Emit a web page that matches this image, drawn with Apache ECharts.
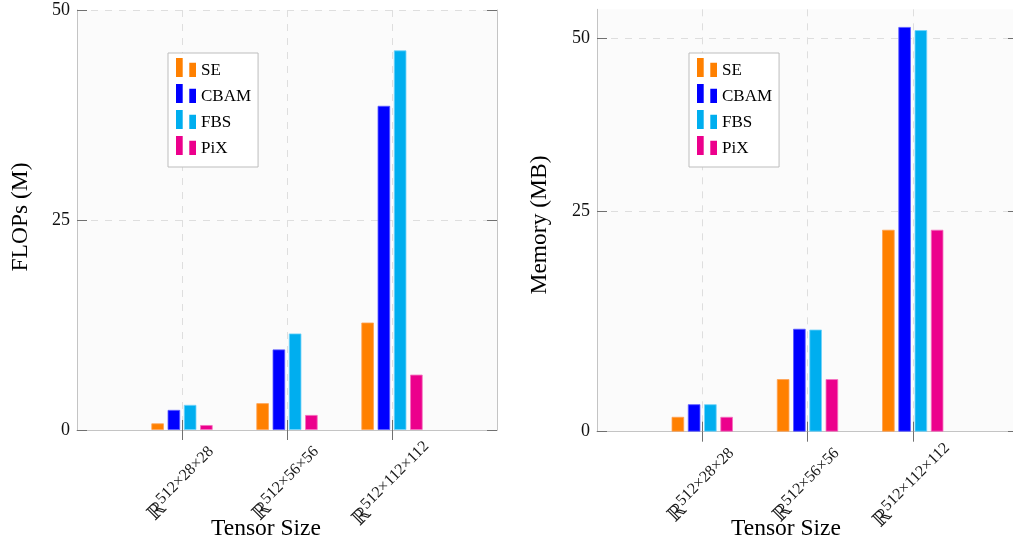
<!DOCTYPE html>
<html>
<head>
<meta charset="utf-8">
<script src="https://cdn.jsdelivr.net/npm/echarts@6/dist/echarts.min.js"></script>
<style>html,body{margin:0;padding:0;background:#fff;}#c{width:1013px;height:544px;}</style>
</head>
<body>
<div id="c"></div>
<script>
// ---- data ----
const categories = ['ℝ512×28×28', 'ℝ512×56×56', 'ℝ512×112×112'];
const seriesNames = ['SE', 'CBAM', 'FBS', 'PiX'];
const flopsSE   = [0.8, 3.2, 12.8];
const flopsCBAM = [2.4, 9.6, 38.6];
const flopsFBS  = [3.0, 11.5, 45.2];
const flopsPiX  = [0.6, 1.8, 6.6];
const memSE   = [1.9, 6.7, 25.7];
const memCBAM = [3.5, 13.1, 51.5];
const memFBS  = [3.5, 13.0, 51.1];
const memPiX  = [1.9, 6.7, 25.7];
const flopsTickValues = [0, 25, 50];
const memTickValues = [0, 28.1, 50];
const memTickLabels = ['0', '25', '50'];

// ---- style ----
const colors = ['#ff8000', '#0000ff', '#00aeef', '#ec008c'];
const borderColors = ['rgba(255,160,80,0.8)', 'rgba(90,90,255,0.8)', 'rgba(110,210,250,0.8)', 'rgba(245,110,190,0.8)'];
const serif = '"Liberation Serif", "Times New Roman", serif';
const axisLineColor = '#c4c4c4';
const tickColor = '#707070';
const gridLineColor = '#dedede';

const axisData = [''].concat(categories, ['']);
const isCat = (i) => i >= 1 && i <= categories.length;
const pad = (arr) => [null].concat(arr, [null]);

function xAxes(gi) {
  return [{
    type: 'category', gridIndex: gi, data: axisData, boundaryGap: false, position: 'bottom',
    axisLine: { lineStyle: { color: axisLineColor, width: 1 } },
    axisTick: { show: true, inside: false, length: 10, interval: (i) => isCat(i), lineStyle: { color: tickColor } },
    axisLabel: {
      interval: 0, rotate: 45, align: 'center', verticalAlign: 'middle', margin: 54,
      formatter: (v) => v ? '{r|' + v[0] + '}{s|' + v.slice(1) + '}' : '',
      rich: {
        r: { fontSize: 20, fontFamily: '"DejaVu Serif", serif', color: '#1a1a1a', verticalAlign: 'bottom' },
        s: { fontSize: 16, fontFamily: serif, color: '#1a1a1a', padding: [0, 0, 8, 0] }
      }
    },
    splitLine: { show: true, interval: (i) => isCat(i), lineStyle: { color: gridLineColor, type: [7, 7], width: 1 } }
  }, {
    type: 'category', gridIndex: gi, data: axisData, boundaryGap: false, position: 'top',
    axisLine: { lineStyle: { color: axisLineColor, width: 1 } },
    axisTick: { show: true, inside: false, length: 10, interval: (i) => isCat(i), lineStyle: { color: tickColor } },
    axisLabel: { show: false },
    splitLine: { show: false }
  }];
}

function yAxes(gi, max, tickVals, labelFn) {
  const common = { type: 'value', gridIndex: gi, min: 0, max: max };
  return [Object.assign({}, common, {
    position: 'left',
    axisLine: { show: true, lineStyle: { color: axisLineColor, width: 1 } },
    axisTick: { show: true, inside: true, length: 10, customValues: tickVals, lineStyle: { color: tickColor } },
    axisLabel: { customValues: tickVals, formatter: labelFn, fontFamily: serif, fontSize: 18, color: '#111', margin: 7 },
    splitLine: { show: true, lineStyle: { color: gridLineColor, type: [7, 7], width: 1 } }
  }), Object.assign({}, common, {
    position: 'right',
    axisLine: { show: true, lineStyle: { color: axisLineColor, width: 1 } },
    axisTick: { show: true, inside: true, length: 10, customValues: tickVals, lineStyle: { color: tickColor } },
    axisLabel: { show: false },
    splitLine: { show: false }
  })];
}

function barSeries(gi, arrays) {
  return arrays.map((arr, k) => ({
    name: seriesNames[k], type: 'bar', xAxisIndex: gi * 2, yAxisIndex: gi * 2,
    data: pad(arr), barWidth: 12.7, barGap: '28%',
    itemStyle: { color: colors[k], borderColor: borderColors[k], borderWidth: 1 },
    emphasis: { disabled: true }, animation: false
  }));
}

function legend(left, top) {
  return {
    orient: 'vertical', left: left, top: top, data: seriesNames,
    padding: [5, 7, 5, 8], itemGap: 0, itemWidth: 20, itemHeight: 26,
    // two bars at the top of a 20x26 box (a tiny invisible point fixes the box height)
    icon: 'path://M0,0H6.7V19H0Z M13.3,4.7H20V19H13.3Z M19.99,25.99H20V26H19.99Z',
    symbolKeepAspect: false,
    itemStyle: { borderWidth: 0 },
    backgroundColor: '#ffffff', borderColor: '#bdbdbd', borderWidth: 1, borderRadius: 0,
    selectedMode: false,
    textStyle: { fontFamily: serif, fontSize: 17, color: '#000' }
  };
}

const chart = echarts.init(document.getElementById('c'), null, { renderer: 'canvas' });
chart.setOption({
  animation: false,
  backgroundColor: '#ffffff',
  grid: [
    { left: 77, top: 10, width: 420, height: 420, show: true, backgroundColor: '#fbfbfb', borderWidth: 0, outerBoundsMode: 'none', containLabel: false },
    { left: 597, top: 9.3, width: 421, height: 422.4, show: true, backgroundColor: '#fbfbfb', borderWidth: 0, outerBoundsMode: 'none', containLabel: false }
  ],
  xAxis: xAxes(0).concat(xAxes(1)),
  yAxis: yAxes(0, 50, flopsTickValues, (v) => String(v))
    .concat(yAxes(1, 53.74, memTickValues, (v) => memTickLabels[memTickValues.indexOf(v)] ?? '')),
  legend: [legend(168, 53), legend(689, 53)],
  series: barSeries(0, [flopsSE, flopsCBAM, flopsFBS, flopsPiX])
    .concat(barSeries(1, [memSE, memCBAM, memFBS, memPiX])),
  graphic: [
    { type: 'text', x: 21, y: 217, rotation: Math.PI / 2,
      style: { text: 'FLOPs (M)', fontFamily: serif, fontSize: 23.5, fill: '#000', textAlign: 'center', textVerticalAlign: 'middle' } },
    { type: 'text', x: 540, y: 225, rotation: Math.PI / 2,
      style: { text: 'Memory (MB)', fontFamily: serif, fontSize: 23.5, fill: '#000', textAlign: 'center', textVerticalAlign: 'middle' } },
    { type: 'text', x: 266, y: 529,
      style: { text: 'Tensor Size', fontFamily: serif, fontSize: 23.5, fill: '#000', textAlign: 'center', textVerticalAlign: 'middle' } },
    { type: 'text', x: 786, y: 529,
      style: { text: 'Tensor Size', fontFamily: serif, fontSize: 23.5, fill: '#000', textAlign: 'center', textVerticalAlign: 'middle' } }
  ]
});
</script>
</body>
</html>
